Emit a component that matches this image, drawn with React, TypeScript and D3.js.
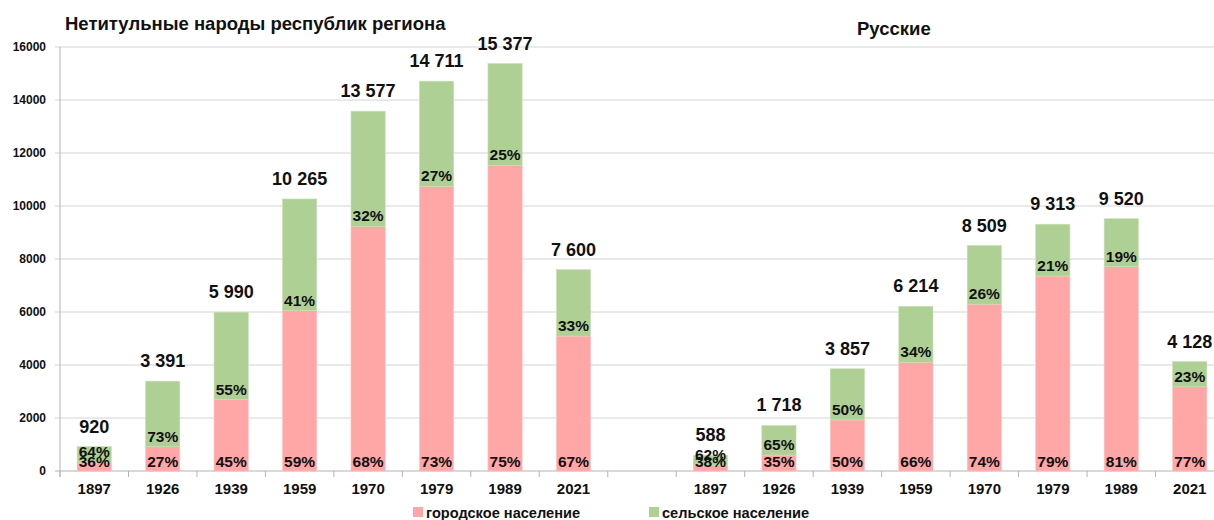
import React from "react";
import * as d3 from "d3";

const years = ["1897", "1926", "1939", "1959", "1970", "1979", "1989", "2021"];
const nonTitularTotal = [920, 3391, 5990, 10265, 13577, 14711, 15377, 7600];
const nonTitularUrbanPct = [36, 27, 45, 59, 68, 73, 75, 67];
const russianTotal = [588, 1718, 3857, 6214, 8509, 9313, 9520, 4128];
const russianUrbanPct = [38, 35, 50, 66, 74, 79, 81, 77];
const yTicks = [0, 2000, 4000, 6000, 8000, 10000, 12000, 14000, 16000];
const seriesNames = ["городское население", "сельское население"];
const groupTitles = ["Нетитульные народы республик региона", "Русские"];

const URBAN = "#ffa6a6";
const RURAL = "#afd095";
const FONT = "'Liberation Sans', Arial, sans-serif";

type Row = { key: string; year: string; total: number; urbanPct: number };

const rows: Row[] = [];
years.forEach((y, i) => rows.push({ key: "a" + i, year: y, total: nonTitularTotal[i], urbanPct: nonTitularUrbanPct[i] }));
const gapKey = "gap";
years.forEach((y, i) => rows.push({ key: "b" + i, year: y, total: russianTotal[i], urbanPct: russianUrbanPct[i] }));
const domain = [...rows.slice(0, 8).map((r) => r.key), gapKey, ...rows.slice(8).map((r) => r.key)];

const fmt = (v: number) => d3.format(",")(v).replace(/,/g, " ");

export default function App() {
  const W = 1214, H = 520;
  const x0 = 60, x1 = 1224, y0 = 471, yTop = 47;
  const x = d3.scaleBand().domain(domain).range([x0, x1]).paddingInner(0).paddingOuter(0);
  const y = d3.scaleLinear().domain([0, 16000]).range([y0, yTop]);
  const bw = x.bandwidth() * 0.5;

  return (
    <svg width={W} height={H} style={{ position: "absolute", left: 0, top: 0, fontFamily: FONT }}>
      <rect width={W} height={H} fill="#fff" />
      {yTicks.map((t) => (
        <g key={t}>
          <line x1={x0 - 5} x2={W} y1={y(t)} y2={y(t)} stroke={t === 0 ? "#b3b3b3" : "#d4d4d4"} strokeWidth={1} />
          <text x={46} y={y(t) + 4} textAnchor="end" fontSize={12} fontWeight="bold" fill="#111">{t}</text>
        </g>
      ))}
      <line x1={x0} x2={x0} y1={yTop} y2={y0 + 6} stroke="#b3b3b3" />
      {d3.range(domain.length + 1).map((i) => {
        const xx = x0 + i * x.step();
        return <line key={i} x1={xx} x2={xx} y1={y0} y2={y0 + 6} stroke="#b3b3b3" />;
      })}
      {rows.map((r) => {
        const cx = (x(r.key) as number) + x.bandwidth() / 2;
        const urban = (r.total * r.urbanPct) / 100;
        const yb = y(urban);
        const yt = y(r.total);
        return (
          <g key={r.key}>
            <rect x={cx - bw / 2} width={bw} y={yb} height={y0 - yb} fill={URBAN} stroke="#ffc4c4" strokeWidth={0.6} />
            <rect x={cx - bw / 2} width={bw} y={yt} height={yb - yt} fill={RURAL} stroke="#c8e0b6" strokeWidth={0.6} />
            <text x={cx} y={y0 - 4} textAnchor="middle" fontSize={15.5} fontWeight="bold" fill="#111">{r.urbanPct}%</text>
            <text x={cx} y={yb - 5} textAnchor="middle" fontSize={15.5} fontWeight="bold" fill="#111">{100 - r.urbanPct}%</text>
            <text x={cx} y={yt - 14} textAnchor="middle" fontSize={18} fontWeight="bold" fill="#111">{fmt(r.total)}</text>
            <text x={cx} y={494} textAnchor="middle" fontSize={15} fontWeight="bold" fill="#111">{r.year}</text>
          </g>
        );
      })}
      <text x={65} y={30} fontSize={18.5} fontWeight="bold" fill="#111">{groupTitles[0]}</text>
      <text x={857} y={35} fontSize={18.5} fontWeight="bold" fill="#111">{groupTitles[1]}</text>
      {seriesNames.map((s, i) => {
        const lx = i === 0 ? 413 : 649;
        return (
          <g key={s}>
            <rect x={lx} y={507} width={10} height={10} fill={i === 0 ? URBAN : RURAL} />
            <text x={lx + 13} y={518} fontSize={14.6} fontWeight="bold" fill="#111">{s}</text>
          </g>
        );
      })}
    </svg>
  );
}
